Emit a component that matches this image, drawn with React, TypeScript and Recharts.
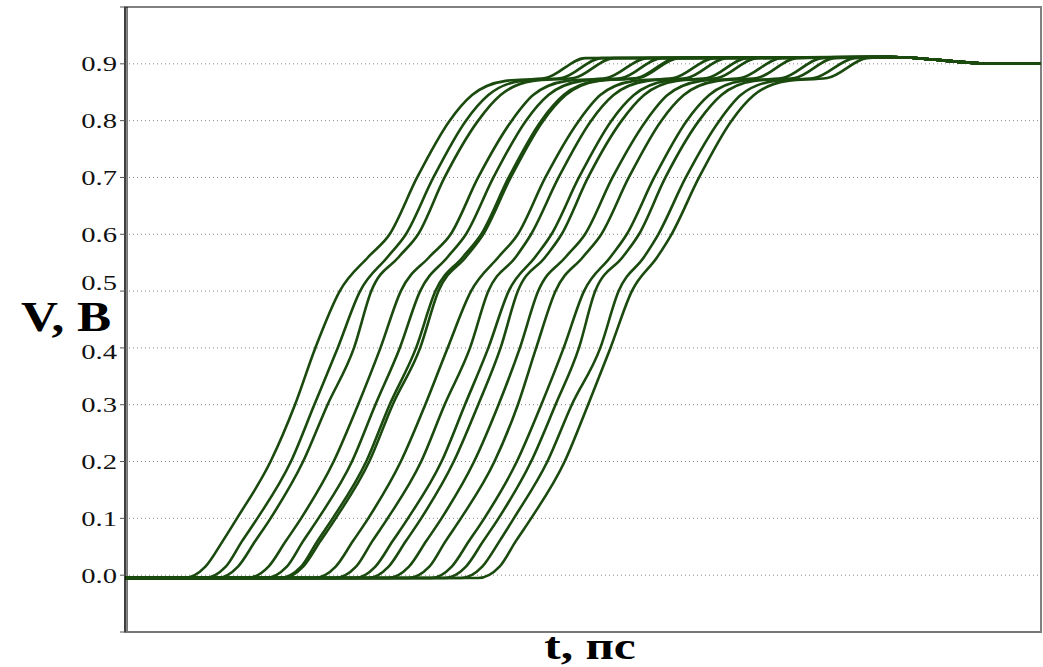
import { CartesianGrid, Label, Line, LineChart, ReferenceArea, ReferenceLine, XAxis, YAxis } from "recharts";

const V_LEVELS = [-0.005, 0.015, 0.06, 0.1, 0.2, 0.3, 0.4, 0.5, 0.56, 0.6, 0.7, 0.8, 0.845, 0.87, 0.875, 0.91];

// time (ps) at which each curve passes the levels above
const t01 = [58, 79, 96, 110, 143, 167, 187, 211, 239, 260, 287, 319, 341, 374, 413, 452];
const t02 = [78, 99, 115, 130, 163, 186, 209, 231, 258, 276, 303, 335, 357, 389, 429, 468];
const t03 = [91, 111, 128, 143, 175, 199, 225, 242, 269, 288, 314, 347, 369, 401, 441, 480];
const t04 = [120, 141, 158, 173, 205, 229, 251, 271, 299, 320, 347, 380, 401, 434, 473, 513];
const t05 = [138, 159, 175, 190, 223, 246, 270, 290, 317, 335, 362, 394, 416, 449, 488, 527];
const t06 = [152, 173, 189, 204, 237, 260, 286, 305, 332, 350, 377, 409, 431, 463, 503, 542];
const t07 = [155, 175, 192, 207, 240, 263, 290, 308, 335, 352, 379, 411, 433, 465, 505, 544];
const t08 = [186, 207, 224, 239, 271, 295, 317, 340, 367, 386, 413, 446, 467, 500, 539, 579];
const t09 = [206, 227, 243, 258, 291, 314, 339, 357, 384, 399, 426, 458, 480, 513, 552, 591];
const t10 = [226, 246, 263, 278, 311, 334, 357, 377, 403, 419, 446, 478, 500, 532, 572, 611];
const t11 = [239, 259, 276, 291, 323, 347, 369, 386, 413, 429, 455, 488, 510, 542, 582, 621];
const t12 = [258, 279, 296, 311, 343, 367, 388, 406, 433, 452, 479, 512, 533, 566, 605, 645];
const t13 = [278, 299, 315, 330, 363, 386, 404, 423, 450, 468, 495, 527, 549, 582, 621, 660];
const t14 = [301, 321, 338, 353, 385, 409, 431, 451, 477, 493, 520, 552, 574, 606, 646, 685];
const t15 = [314, 335, 352, 367, 399, 423, 446, 462, 489, 505, 531, 564, 586, 618, 658, 697];
const t16 = [330, 351, 368, 382, 415, 439, 467, 485, 510, 524, 551, 584, 605, 638, 677, 717];
const t17 = [347, 368, 384, 399, 432, 455, 477, 498, 523, 537, 564, 596, 618, 651, 690, 729];

const CURVES = [t01, t02, t03, t04, t05, t06, t07, t08, t09, t10, t11, t12, t13, t14, t15, t16, t17];

// shared start and settling tail
const HEAD_T = [0];
const HEAD_V = [-0.005];
const TAIL_T = [751, 855, 900];
const TAIL_V = [0.912, 0.9, 0.9];

const X_TICKS = [0, 150, 300, 450, 600, 750, 900];
const Y_TICKS = [-0.1, 0, 0.1, 0.2, 0.3, 0.4, 0.5, 0.6, 0.7, 0.8, 0.9, 1.0];

const GREEN = "#1b4a0f";
const SERIF = "Liberation Serif, Times New Roman, serif";

const series = CURVES.map((ts) => {
  const t = [...HEAD_T, ...ts, ...TAIL_T];
  const v = [...HEAD_V, ...V_LEVELS, ...TAIL_V];
  return t.map((tt, i) => ({ t: tt, v: v[i] }));
});

function VTick(props: any) {
  const { x, y, payload } = props;
  const val = payload.value as number;
  if (val < -0.05 || val > 0.95) return null;
  // labels next to the axis title are nudged apart like in the original
  let shift = 0;
  if (Math.abs(val - 0.5) < 0.01) shift = -9;
  if (Math.abs(val - 0.4) < 0.01) shift = 4;
  return (
    <g transform={`translate(${x},${y + shift}) scale(1.3,1)`}>
      <text x={0} y={0} dy="0.34em" textAnchor="end" style={{ fontFamily: SERIF }} fontSize={22} fill="#111">
        {val.toFixed(1)}
      </text>
    </g>
  );
}

const vTitle = (props: any) => {
  const vb = props.viewBox;
  return (
    <g transform={`translate(${vb.x + 21},${vb.y + vb.height / 2 + 11}) scale(1.22,1)`}>
      <text x={0} y={0} style={{ fontFamily: SERIF }} fontWeight="bold" fontSize={42} fill="#000">
        V, B
      </text>
    </g>
  );
};

const tTitle = (props: any) => {
  const vb = props.viewBox;
  return (
    <g transform={`translate(${vb.x + vb.width / 2 + 7},${vb.y + vb.height - 8}) scale(1.3,1)`}>
      <text x={0} y={0} textAnchor="middle" style={{ fontFamily: SERIF }} fontWeight="bold" fontSize={38} fill="#000">
        t, пс
      </text>
    </g>
  );
};

export default function App() {
  return (
    <div style={{ position: "absolute", left: 0, top: 0, width: 1043, height: 667, background: "#fff" }}>
      <LineChart width={1043} height={667} margin={{ top: 7, right: 2, left: 0, bottom: 0 }}>
        <CartesianGrid stroke="#888" strokeDasharray="1 3" />
        <XAxis
          dataKey="t"
          type="number"
          domain={[0, 900]}
          ticks={X_TICKS}
          allowDataOverflow
          height={35}
          tick={false}
          tickLine={false}
          axisLine={{ stroke: "#777", strokeWidth: 2 }}
        >
          <Label content={tTitle} />
        </XAxis>
        <YAxis
          type="number"
          domain={[-0.1, 1]}
          ticks={Y_TICKS}
          interval={0}
          allowDataOverflow
          width={125}
          tickSize={5}
          tickMargin={3}
          tick={<VTick />}
          tickLine={{ stroke: "#555" }}
          axisLine={{ stroke: "#000" }}
        >
          <Label content={vTitle} />
        </YAxis>
        <ReferenceArea x1={0} x2={900} y1={-0.1} y2={1} fill="none" stroke="#808080" strokeWidth={2} />
        {/* inner edge of the doubled left frame line */}
        <ReferenceLine x={2} stroke="#000" strokeWidth={1} />
        {series.map((d, i) => (
          <Line
            key={i}
            data={d}
            dataKey="v"
            type="monotone"
            stroke={GREEN}
            strokeWidth={2.6}
            dot={false}
            activeDot={false}
            isAnimationActive={false}
          />
        ))}
      </LineChart>
    </div>
  );
}
